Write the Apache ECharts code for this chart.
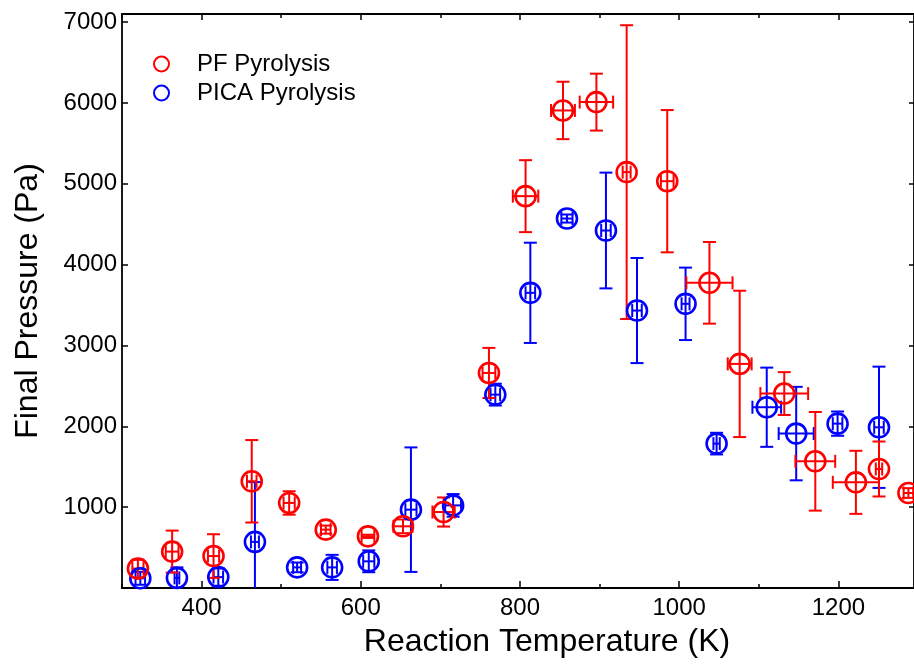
<!DOCTYPE html>
<html>
<head>
<meta charset="utf-8">
<script src="https://cdn.jsdelivr.net/npm/echarts@6/dist/echarts.min.js"></script>
<style>html,body{margin:0;padding:0;background:#fff}#chart{width:914px;height:669px}</style>
</head>
<body>
<div id="chart"></div>
<script>
// PF Pyrolysis (red)
const pfTemp   = [320, 363, 415, 463, 510, 556, 609, 653, 704, 761, 807, 854, 896, 934, 985, 1038, 1076, 1132, 1171, 1222, 1251, 1288];
const pfPress  = [240, 450, 395, 1320, 1052, 722, 639, 763, 940, 2660, 4847, 5907, 6010, 5144, 5032, 3775, 2772, 2405, 1567, 1307, 1472, 1175];
const pfPErr   = [110, 260, 270, 510, 145, 50, 20, 85, 180, 310, 445, 355, 352, 1817, 880, 505, 905, 265, 610, 390, 340, 60];
const pfTErr   = [7, 8, 7, 6, 7, 6, 8, 12, 14, 8, 16, 15, 21, 5, 8, 29, 15, 30, 25, 29, 4, 6];
// PICA Pyrolysis (blue)
const picaTemp  = [323, 369, 421, 467, 520, 564, 610, 663, 716, 769, 813, 859, 908, 947, 1008, 1047, 1110, 1147, 1199, 1251];
const picaPress = [120, 125, 135, 570, 255, 255, 330, 969, 1022, 2392, 3651, 4570, 4422, 3432, 3515, 1786, 2236, 1910, 2033, 1988];
const picaPErr  = [80, 130, 107, 740, 60, 155, 135, 770, 140, 135, 620, 50, 716, 650, 448, 134, 490, 578, 150, 750];
const picaTErr  = [6, 3, 6, 5, 5, 6, 7, 7, 10, 6, 6, 7, 6, 6, 5, 4, 18, 22, 6, 6];
// ticks
const xMajorTicks = [400, 600, 800, 1000, 1200];
const xMinorTicks = [300, 500, 700, 900, 1100];
const yTicks = [1000, 2000, 3000, 4000, 5000, 6000, 7000];

const RED = '#ff0000', BLUE = '#0000ff';
const FONT = '"Liberation Sans", Arial, sans-serif';

function rows(t, p, te, pe) { return t.map((v, i) => [v, p[i], te[i], pe[i]]); }

function errRender(color) {
  return function (params, api) {
    const x = api.value(0), y = api.value(1), ex = api.value(2), ey = api.value(3);
    const cs = params.coordSys;
    const c = api.coord([x, y]);
    const t = api.coord([x, y + ey]), b = api.coord([x, y - ey]);
    const l = api.coord([x - ex, y]), r = api.coord([x + ex, y]);
    const yMin = cs.y, yMax = cs.y + cs.height;
    const cap = 6.5;
    const style = { stroke: color, lineWidth: 2, fill: null };
    const ch = [];
    const ty = Math.max(t[1], yMin), by = Math.min(b[1], yMax);
    ch.push({ type: 'line', shape: { x1: c[0], y1: ty, x2: c[0], y2: by }, style });
    if (t[1] >= yMin) ch.push({ type: 'line', shape: { x1: c[0] - cap, y1: t[1], x2: c[0] + cap, y2: t[1] }, style });
    if (b[1] <= yMax) ch.push({ type: 'line', shape: { x1: c[0] - cap, y1: b[1], x2: c[0] + cap, y2: b[1] }, style });
    ch.push({ type: 'line', shape: { x1: l[0], y1: c[1], x2: r[0], y2: c[1] }, style });
    ch.push({ type: 'line', shape: { x1: l[0], y1: c[1] - cap, x2: l[0], y2: c[1] + cap }, style });
    ch.push({ type: 'line', shape: { x1: r[0], y1: c[1] - cap, x2: r[0], y2: c[1] + cap }, style });
    return { type: 'group', children: ch };
  };
}

const plain = v => String(Math.round(v));
const axisLineStyle = { color: '#000', width: 1.8 };
const xBase = { type: 'value', min: 300, max: 1295, gridIndex: 0, splitLine: { show: false } };

const chart = echarts.init(document.getElementById('chart'), null, { renderer: 'canvas' });
chart.setOption({
  animation: false,
  backgroundColor: '#fff',
  grid: { left: 122, right: -1, top: 14, bottom: 81, containLabel: false },
  legend: {
    left: 148, top: 47, orient: 'vertical', itemGap: 5,
    itemWidth: 15, itemHeight: 15,
    textStyle: { fontFamily: FONT, fontSize: 24, color: '#000', lineHeight: 24, padding: [0, 0, 0, 23] },
    data: [
      { name: 'PF Pyrolysis', icon: 'circle', itemStyle: { color: 'rgba(0,0,0,0)', borderColor: RED, borderWidth: 2, opacity: 1 } },
      { name: 'PICA Pyrolysis', icon: 'circle', itemStyle: { color: 'rgba(0,0,0,0)', borderColor: BLUE, borderWidth: 2, opacity: 1 } }
    ]
  },
  xAxis: [
    Object.assign({}, xBase, {
      position: 'bottom',
      name: 'Reaction Temperature (K)', nameLocation: 'middle', nameGap: 38,
      nameTextStyle: { fontFamily: FONT, fontSize: 32, color: '#000', padding: [0, 0, 0, 58] },
      axisLine: { show: true, lineStyle: axisLineStyle },
      axisTick: { show: true, inside: true, length: 7, customValues: xMajorTicks, lineStyle: { color: '#000', width: 1.5 } },
      axisLabel: { show: true, customValues: xMajorTicks, formatter: plain, margin: 8, fontFamily: FONT, fontSize: 24, color: '#000' }
    }),
    Object.assign({}, xBase, {
      position: 'bottom',
      axisLine: { show: false },
      axisTick: { show: true, inside: true, length: 4, customValues: xMinorTicks, lineStyle: { color: '#000', width: 1.5 } },
      axisLabel: { show: false }
    }),
    Object.assign({}, xBase, {
      position: 'top',
      axisLine: { show: true, lineStyle: axisLineStyle },
      axisTick: { show: true, inside: true, length: 6, customValues: xMajorTicks, lineStyle: { color: '#000', width: 1.5 } },
      axisLabel: { show: false }
    }),
    Object.assign({}, xBase, {
      position: 'top',
      axisLine: { show: false },
      axisTick: { show: true, inside: true, length: 4, customValues: xMinorTicks, lineStyle: { color: '#000', width: 1.5 } },
      axisLabel: { show: false }
    })
  ],
  yAxis: [
    {
      type: 'value', min: 0, max: 7100, position: 'left', splitLine: { show: false },
      name: 'Final Pressure (Pa)', nameLocation: 'middle', nameGap: 78, nameRotate: 90,
      nameTextStyle: { fontFamily: FONT, fontSize: 32, color: '#000' },
      axisLine: { show: true, lineStyle: axisLineStyle },
      axisTick: { show: true, inside: true, length: 6, customValues: yTicks, lineStyle: { color: '#000', width: 1.5 } },
      axisLabel: { show: true, customValues: yTicks, formatter: plain, margin: 5, fontFamily: FONT, fontSize: 24, color: '#000' }
    },
    {
      type: 'value', min: 0, max: 7100, position: 'right', splitLine: { show: false },
      axisLine: { show: true, lineStyle: axisLineStyle },
      axisTick: { show: true, inside: true, length: 5, customValues: yTicks, lineStyle: { color: '#000', width: 1.5 } },
      axisLabel: { show: false }
    }
  ],
  series: [
    {
      type: 'custom', name: 'PICA err', xAxisIndex: 0, yAxisIndex: 0,
      renderItem: errRender(BLUE), data: rows(picaTemp, picaPress, picaTErr, picaPErr),
      encode: { x: 0, y: 1 }, clip: false, silent: true, z: 2
    },
    {
      type: 'custom', name: 'PF err', xAxisIndex: 0, yAxisIndex: 0,
      renderItem: errRender(RED), data: rows(pfTemp, pfPress, pfTErr, pfPErr),
      encode: { x: 0, y: 1 }, clip: false, silent: true, z: 3
    },
    {
      type: 'scatter', name: 'PICA Pyrolysis', xAxisIndex: 0, yAxisIndex: 0,
      data: picaTemp.map((t, i) => [t, picaPress[i]]),
      symbol: 'circle', symbolSize: 20, clip: false,
      itemStyle: { color: 'rgba(0,0,0,0)', borderColor: BLUE, borderWidth: 2.6, opacity: 1 }, z: 4
    },
    {
      type: 'scatter', name: 'PF Pyrolysis', xAxisIndex: 0, yAxisIndex: 0,
      data: pfTemp.map((t, i) => [t, pfPress[i]]),
      symbol: 'circle', symbolSize: 20, clip: false,
      itemStyle: { color: 'rgba(0,0,0,0)', borderColor: RED, borderWidth: 2.6, opacity: 1 }, z: 5
    }
  ]
});
</script>
</body>
</html>
